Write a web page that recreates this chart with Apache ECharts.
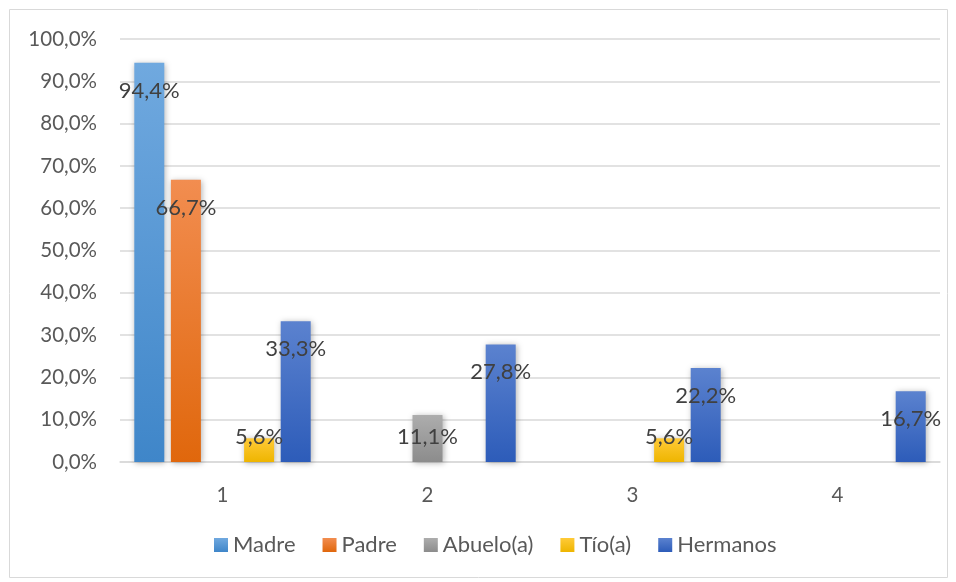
<!DOCTYPE html>
<html>
<head>
<meta charset="utf-8">
<script src="https://cdn.jsdelivr.net/npm/echarts@6/dist/echarts.min.js"></script>
<style>
  html, body { margin: 0; padding: 0; background: #fff; }
  #main { width: 956px; height: 582px; }
</style>
</head>
<body>
<div id="main"></div>
<script>
// categorias y valores (%)
var categories = ['1', '2', '3', '4']
var seriesNames = ['Madre', 'Padre', 'Abuelo(a)', 'Tío(a)', 'Hermanos']
var madre = [94.4, null, null, null]
var padre = [66.7, null, null, null]
var abuelo = [null, 11.1, null, null]
var tio = [5.6, null, 5.6, null]
var hermanos = [33.3, 27.8, 22.2, 16.7]
var yTicks = [0, 10, 20, 30, 40, 50, 60, 70, 80, 90, 100]

// colores degradados (arriba, abajo)
var colors = [
  ['#70a9df', '#3f86c9'],
  ['#f28d50', '#e0670c'],
  ['#adadad', '#8c8c8c'],
  ['#ffca38', '#eeb500'],
  ['#5b82cf', '#2d5cb9']
]

var FONT = 'Lato, "DejaVu Sans", sans-serif'

function fmt(v) {
  return v.toFixed(1).replace('.', ',') + '%'
}

function grad(c) {
  return new echarts.graphic.LinearGradient(0, 0, 0, 1, [
    { offset: 0, color: c[0] },
    { offset: 1, color: c[1] }
  ])
}

function makeData(arr) {
  return arr.map(function (v) {
    if (v === null) return '-'
    if (v < 10) {
      // etiqueta encima de la barra pequeña
      return { value: v, label: { position: 'insideBottom', distance: 14 } }
    }
    if (v < 15) {
      return { value: v, label: { position: 'insideTop', distance: 11 } }
    }
    return v
  })
}

var allData = [madre, padre, abuelo, tio, hermanos]

var myChart = echarts.init(document.getElementById('main'))
myChart.setOption({
  animation: false,
  textStyle: { fontFamily: FONT },
  graphic: [
    {
      type: 'rect',
      shape: { x: 9.5, y: 9.5, width: 938, height: 568 },
      style: { fill: 'none', stroke: '#d9d9d9', lineWidth: 1 },
      silent: true
    }
  ],
  grid: { left: 120, right: 16, top: 39, bottom: 120 },
  legend: {
    bottom: 21,
    left: 209,
    itemWidth: 14,
    itemHeight: 14,
    itemGap: 27,
    icon: 'rect',
    textStyle: { fontSize: 22, color: '#595959', fontFamily: FONT },
    data: seriesNames
  },
  xAxis: {
    type: 'category',
    data: categories,
    axisLine: { lineStyle: { color: '#d9d9d9', width: 1.5 } },
    axisTick: { show: false },
    axisLabel: { fontSize: 20.5, color: '#595959', margin: 23 }
  },
  yAxis: {
    type: 'value',
    min: yTicks[0],
    max: yTicks[yTicks.length - 1],
    interval: 10,
    axisLine: { show: false },
    axisTick: { show: false },
    splitLine: { lineStyle: { color: '#d9d9d9', width: 1.5 } },
    axisLabel: {
      fontSize: 20.5,
      color: '#595959',
      margin: 23,
      formatter: function (v) { return fmt(v) }
    }
  },
  series: seriesNames.map(function (name, i) {
    return {
      name: name,
      type: 'bar',
      barWidth: 30,
      barGap: '22%',
      data: makeData(allData[i]),
      itemStyle: {
        color: grad(colors[i]),
        shadowBlur: 6,
        shadowColor: 'rgba(0,0,0,0.3)',
        shadowOffsetX: 1,
        shadowOffsetY: 1
      },
      label: {
        show: true,
        position: 'insideTop',
        distance: 17,
        fontSize: 22,
        color: '#404040',
        formatter: function (p) { return fmt(p.value) }
      }
    }
  })
})
</script>
</body>
</html>
